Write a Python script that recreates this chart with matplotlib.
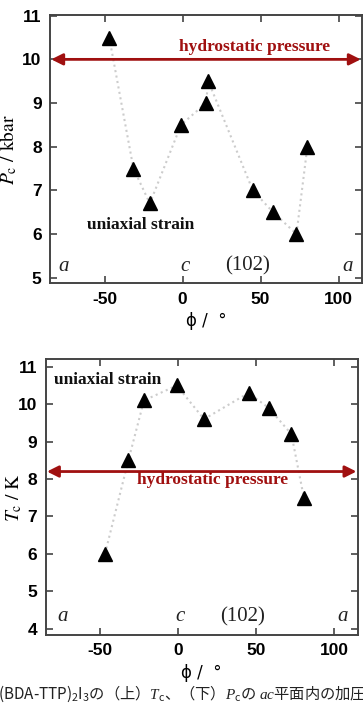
import matplotlib
matplotlib.use("Agg")
import matplotlib.pyplot as plt

# ---- data ----
phi_p = [-47, -31.5, -21, -1, 15, 16.5, 45, 58, 73, 80]
pc = [10.5, 7.5, 6.7, 8.5, 9.0, 9.5, 7.0, 6.5, 6.0, 8.0]
phi_t = [-47, -32, -22, -1, 16.5, 45, 58, 72.5, 80.5]
tc = [6.0, 8.5, 10.1, 10.5, 9.6, 10.3, 9.9, 9.2, 7.5]
hydro_p = 10.0
hydro_t = 8.2
xticks = [-50, 0, 50, 100]
yticks_p = [5, 6, 7, 8, 9, 10, 11]
yticks_t = [4, 5, 6, 7, 8, 9, 10, 11]
dir_labels = ["a", "c", "(102)", "a"]
dir_x_top = [-76, 1.5, 41.5, 106]
dir_x_bot = [-74, 1, 41.5, 105.5]
caption = "(BDA-TTP)$_2$I$_3$の（上）$T_\\mathrm{c}$、（下）$P_\\mathrm{c}$の $ac$平面内の加圧方向依存性"

plt.rcParams['axes.unicode_minus'] = False
plt.rcParams['mathtext.fontset'] = 'custom'
plt.rcParams['mathtext.rm'] = 'Noto Sans CJK JP'
plt.rcParams['mathtext.it'] = 'Liberation Serif:italic'

fig = plt.figure(figsize=(3.63, 7.08), dpi=100)
ax1 = fig.add_axes([0.1377, 0.5996, 0.8595, 0.3792])
ax2 = fig.add_axes([0.1259, 0.1031, 0.8595, 0.3894])

red = '#a01010'
spine_c = '#444444'

def style(ax, yticks, ylim):
    ax.set_xlim(-85, 115)
    ax.set_ylim(*ylim)
    ax.set_xticks(xticks)
    ax.set_yticks(yticks)
    ax.tick_params(direction='in', length=5, width=1.2, color=spine_c,
                   top=True, right=True, labelsize=12.5, pad=6)
    for lab in ax.get_xticklabels() + ax.get_yticklabels():
        lab.set_fontfamily('Liberation Sans')
        lab.set_fontweight('bold')
    for s in ax.spines.values():
        s.set_color(spine_c)
        s.set_linewidth(1.4)
    ax.set_xlabel("ϕ /  °", fontsize=12, family='DejaVu Sans', labelpad=4)

def draw(ax, x, y, hy, dir_x, dir_y, hy_text, us_text):
    ax.plot(x, y, linestyle=':', color='#cccccc', linewidth=1.5, zorder=1)
    ax.plot(x, y, linestyle='none', marker='^', color='black', markersize=9.5, zorder=3)
    ax.annotate('', xy=(-84.2, hy), xytext=(114.2, hy),
                arrowprops=dict(arrowstyle='<|-|>', color=red, lw=2,
                                mutation_scale=17, shrinkA=0, shrinkB=0))
    ax.text(hy_text[0], hy_text[1], "hydrostatic pressure", color=red,
            family='Liberation Serif', fontweight='bold', fontsize=12.5,
            ha='center', va='center')
    ax.text(us_text[0], us_text[1], "uniaxial strain", color='#111111',
            family='Liberation Serif', fontweight='bold', fontsize=12.5,
            ha='center', va='center')
    for lab, xx in zip(dir_labels, dir_x):
        st = 'normal' if lab.startswith('(') else 'italic'
        ax.text(xx, dir_y, lab, family='Liberation Serif', style=st,
                fontsize=15, ha='center', va='center', color='#222222')

style(ax1, yticks_p, (4.867, 11.016))
style(ax2, yticks_t, (3.83, 11.2))
draw(ax1, phi_p, pc, hydro_p, dir_x_top, 5.26, (46, 10.29), (-26.6, 6.21))
draw(ax2, phi_t, tc, hydro_t, dir_x_bot, 4.32, (22, 7.97), (-45.4, 10.66))

ax1.set_ylabel("$P_\\mathrm{c}$ / kbar", fontsize=14, math_fontfamily='stix',
               family='STIXGeneral')
ax2.set_ylabel("$T_\\mathrm{c}$ / K", fontsize=14, math_fontfamily='stix',
               family='STIXGeneral')
ax1.yaxis.set_label_coords(-0.098, 0.5)
ax2.yaxis.set_label_coords(-0.07, 0.5)

fig.text(-0.005, 0.0195, caption, fontsize=11, family='Noto Sans CJK JP',
         ha='left', va='center', color='#222222')

fig.savefig('out.png', dpi=100)
